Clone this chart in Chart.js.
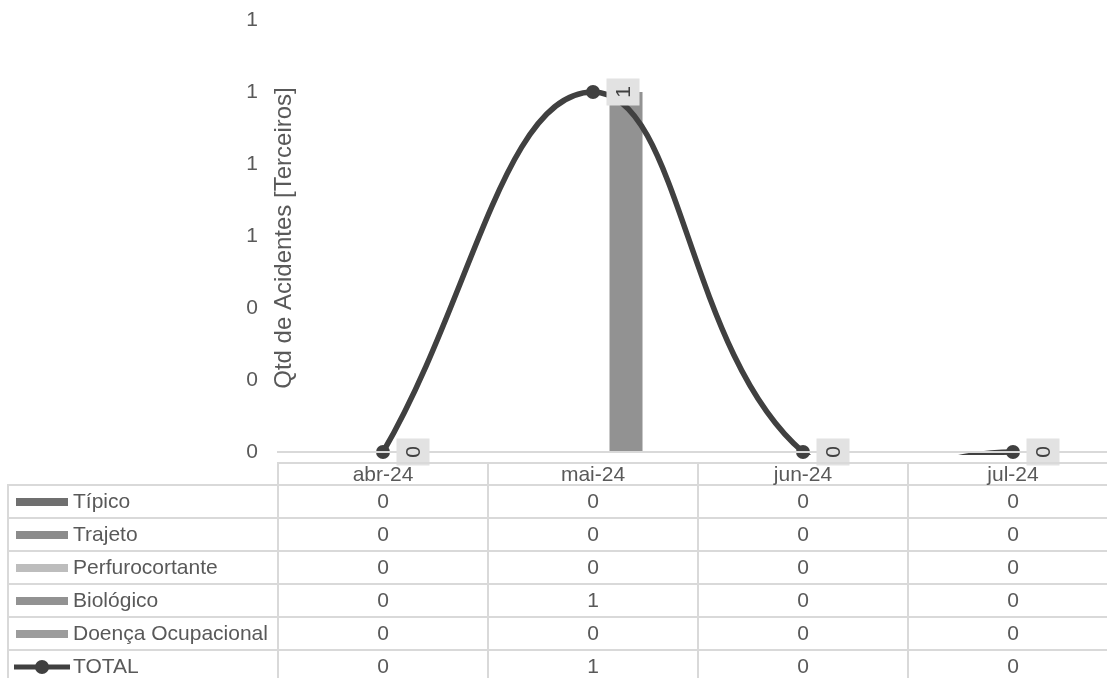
<!DOCTYPE html>
<html><head><meta charset="utf-8">
<script src="https://cdn.jsdelivr.net/npm/chart.js@4.4.1/dist/chart.umd.min.js"></script>
<style>html,body{margin:0;padding:0;overflow:hidden;background:#fff;width:1107px;height:678px}canvas{display:block}</style>
</head><body><canvas id="c" width="1130" height="678"></canvas>
<script>
// ---- data ----
const categories = ['abr-24', 'mai-24', 'jun-24', 'jul-24'];
const tipico = [0, 0, 0, 0];
const trajeto = [0, 0, 0, 0];
const perfurocortante = [0, 0, 0, 0];
const biologico = [0, 1, 0, 0];
const doencaOcupacional = [0, 0, 0, 0];
const total = [0, 1, 0, 0];
const seriesNames = ['Típico', 'Trajeto', 'Perfurocortante', 'Biológico', 'Doença Ocupacional', 'TOTAL'];
const yTitle = 'Qtd de Acidentes [Terceiros]';
const yMin = 0, yMax = 1.2, yStep = 0.2;

// ---- styles ----
const FONT_FAMILY = '"Liberation Sans", Arial, sans-serif';
const FONT = '21px ' + FONT_FAMILY;
const TITLE_FONT = '24px ' + FONT_FAMILY;
const TEXT = '#595959';
const GRIDC = '#d9d9d9';
const LINEC = '#404040';
const barColors = ['#6f6f6f', '#8b8b8b', '#bdbdbd', '#929292', '#9c9c9c'];

const barSeries = [tipico, trajeto, perfurocortante, biologico, doencaOcupacional];

const datasets = barSeries.map((vals, i) => ({
  type: 'bar', label: seriesNames[i], data: vals,
  backgroundColor: barColors[i], borderWidth: 0,
  categoryPercentage: 0.786, barPercentage: 1.0, order: 2
}));
datasets.push({
  type: 'line', label: seriesNames[5], data: total,
  borderColor: LINEC, borderWidth: 5.5, tension: 0.42, pointRadius: 0,
  capBezierPoints: false, fill: false, order: 1,
  clip: {left: false, top: false, right: false, bottom: 3}
});
datasets.push({
  type: 'line', label: seriesNames[5] + ' pts', data: total,
  showLine: false, pointRadius: 7, pointBackgroundColor: LINEC, pointBorderColor: LINEC,
  pointBorderWidth: 0, order: 0, clip: false
});
const POINTS_INDEX = datasets.length - 1;

Chart.defaults.font.family = FONT_FAMILY;
Chart.defaults.font.size = 21;
Chart.defaults.color = TEXT;

function hline(ctx, x1, x2, y) { ctx.beginPath(); ctx.moveTo(x1, y); ctx.lineTo(x2, y); ctx.stroke(); }
function vline(ctx, x, y1, y2) { ctx.beginPath(); ctx.moveTo(x, y1); ctx.lineTo(x, y2); ctx.stroke(); }

const excelPlugin = {
  id: 'excelPlugin',
  afterDatasetsDraw(chart) {
    const ctx = chart.ctx, ca = chart.chartArea;
    ctx.save();
    ctx.strokeStyle = GRIDC; ctx.lineWidth = 2;
    hline(ctx, ca.left - 1, ca.right, ca.bottom);
    const meta = chart.getDatasetMeta(POINTS_INDEX);
    meta.data.forEach((pt, i) => {
      const cx = pt.x + 30, cy = pt.y;
      ctx.fillStyle = '#e2e2e2';
      ctx.fillRect(cx - 16.5, cy - 13.5, 33, 27);
      ctx.save();
      ctx.translate(cx, cy); ctx.rotate(-Math.PI / 2);
      ctx.fillStyle = LINEC; ctx.font = FONT; ctx.textAlign = 'center'; ctx.textBaseline = 'middle';
      ctx.fillText(String(total[i]), 0, 1);
      ctx.restore();
    });
    ctx.restore();
  },
  afterDraw(chart) {
    const ctx = chart.ctx, ca = chart.chartArea, xs = chart.scales.x;
    const n = categories.length;
    const colW = (ca.right - ca.left) / n;
    const headTop = 463, headBot = 485, rowH = 33, tableLeft = 8;
    ctx.save();
    // y title
    ctx.fillStyle = TEXT; ctx.font = TITLE_FONT; ctx.textAlign = 'center'; ctx.textBaseline = 'middle';
    ctx.save();
    ctx.translate(284, (ca.top + ca.bottom) / 2 + 2); ctx.rotate(-Math.PI / 2);
    ctx.fillText(yTitle, 0, 0);
    ctx.restore();
    ctx.font = FONT;
    // table grid
    ctx.strokeStyle = GRIDC; ctx.lineWidth = 2;
    hline(ctx, ca.left - 1, ca.right + 1, headTop);
    const rows = [
      {name: seriesNames[0], vals: tipico, color: barColors[0]},
      {name: seriesNames[1], vals: trajeto, color: barColors[1]},
      {name: seriesNames[2], vals: perfurocortante, color: barColors[2]},
      {name: seriesNames[3], vals: biologico, color: barColors[3]},
      {name: seriesNames[4], vals: doencaOcupacional, color: barColors[4]},
      {name: seriesNames[5], vals: total, color: LINEC, line: true}
    ];
    for (let k = 0; k < rows.length; k++) hline(ctx, tableLeft - 1, ca.right + 1, headBot + k * rowH);
    vline(ctx, tableLeft, headBot, 700);
    for (let j = 0; j <= n; j++) vline(ctx, ca.left + j * colW, headTop, 700);
    // header text
    ctx.fillStyle = TEXT;
    categories.forEach((c, j) => ctx.fillText(c, xs.getPixelForValue(j), (headTop + headBot) / 2 + 1));
    // rows
    rows.forEach((r, k) => {
      const cy = headBot + k * rowH + rowH / 2 + 0.5;
      if (r.line) {
        ctx.strokeStyle = r.color; ctx.lineWidth = 5;
        hline(ctx, 14, 70, cy);
        ctx.fillStyle = r.color; ctx.beginPath(); ctx.arc(42, cy, 7, 0, Math.PI * 2); ctx.fill();
      } else {
        ctx.fillStyle = r.color; ctx.fillRect(16, cy - 4, 52, 8);
      }
      ctx.fillStyle = TEXT; ctx.textAlign = 'left';
      ctx.fillText(r.name, 73, cy);
      ctx.textAlign = 'center';
      r.vals.forEach((v, j) => ctx.fillText(String(v), xs.getPixelForValue(j), cy));
    });
    ctx.restore();
  }
};

new Chart(document.getElementById('c'), {
  data: {labels: categories, datasets},
  options: {
    responsive: false, animation: false,
    layout: {padding: {top: 20, bottom: 226, left: 0, right: 12}},
    plugins: {legend: {display: false}, tooltip: {enabled: false}},
    scales: {
      x: {type: 'category', offset: true, grid: {display: false, drawTicks: false}, border: {display: false}, ticks: {display: false}},
      y: {
        min: yMin, max: yMax,
        grid: {display: false, drawTicks: false}, border: {display: false},
        ticks: {stepSize: yStep, padding: 20, color: TEXT, font: {size: 21}, callback: v => String(Math.round(v))},
        afterFit: s => { s.width = 278; s.paddingTop = 10; s.paddingBottom = 10; }
      }
    }
  },
  plugins: [excelPlugin]
});
</script></body></html>
